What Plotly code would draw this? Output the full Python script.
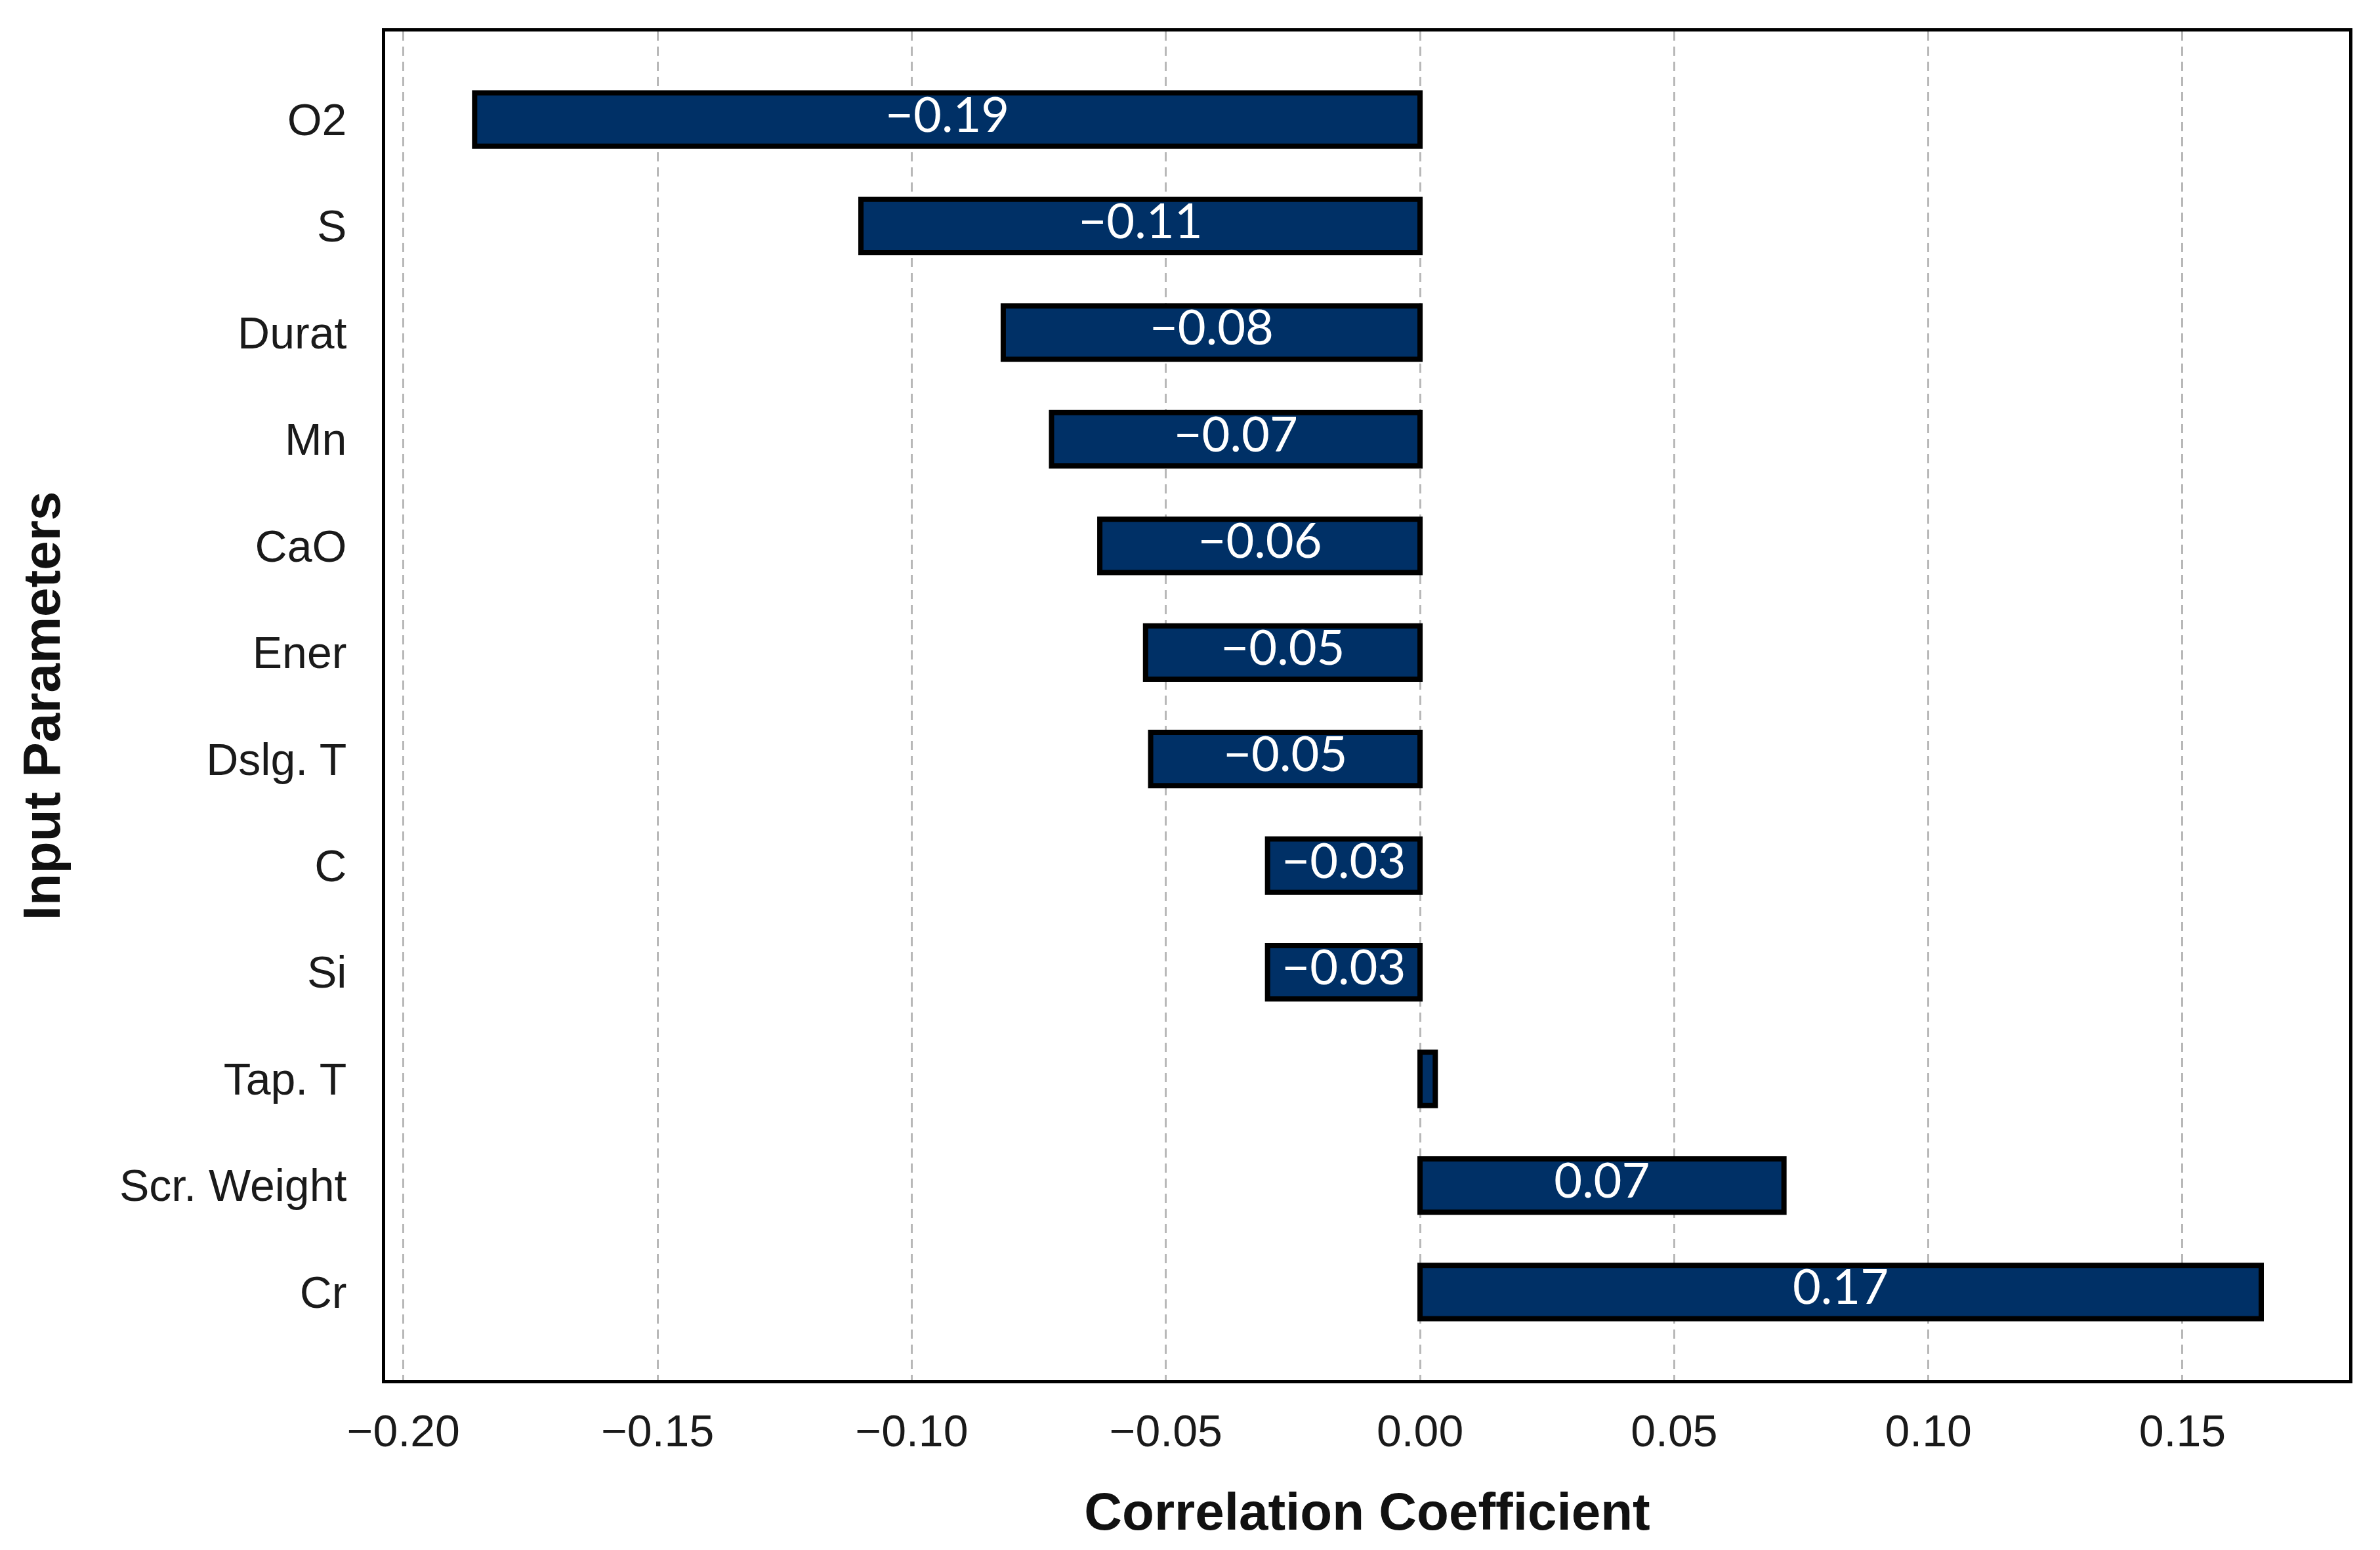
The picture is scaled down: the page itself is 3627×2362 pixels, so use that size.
import plotly.graph_objects as go

parameters = ["O2", "S", "Durat", "Mn", "CaO", "Ener", "Dslg. T", "C", "Si", "Tap. T", "Scr. Weight", "Cr"]
correlations = [-0.186, -0.110, -0.082, -0.0725, -0.063, -0.054, -0.053, -0.030, -0.030, 0.003, 0.0716, 0.1655]
x_ticks = [-0.20, -0.15, -0.10, -0.05, 0.00, 0.05, 0.10, 0.15]

bar_color = "#003066"
tick_font = dict(family="Liberation Sans, Arial, sans-serif", size=68, color="#1a1a1a")
title_font = dict(family="Liberation Sans, Arial, sans-serif", size=80, color="#111111")

labels = [(f"{v:.2f}".replace("-", "\u2212") if abs(v) >= 0.01 else "") for v in correlations]

fig = go.Figure()
fig.add_trace(go.Bar(
    x=correlations, y=parameters, orientation="h", width=0.5,
    marker=dict(color=bar_color, line=dict(color="black", width=8)),
    showlegend=False, hoverinfo="x+y",
))
fig.add_trace(go.Scatter(
    x=[v / 2 for v in correlations], y=parameters, mode="text", text=labels,
    textposition="middle center",
    textfont=dict(family="Lato, Open Sans, sans-serif", size=74, color="white"),
    showlegend=False, hoverinfo="skip",
))

fig.update_layout(
    width=3627, height=2362,
    margin=dict(l=579, r=55, t=40, b=267),
    paper_bgcolor="white", plot_bgcolor="white",
    xaxis=dict(
        range=[-0.2036, 0.1828], tickvals=x_ticks,
        ticktext=[f"{t:.2f}".replace("-", "\u2212") for t in x_ticks],
        showgrid=True, gridcolor="#b8b8b8", gridwidth=3, griddash="14px,9px",
        zeroline=False, showline=True, linecolor="black", linewidth=5, mirror=True,
        ticks="outside", ticklen=14, tickcolor="rgba(0,0,0,0)",
        tickfont=tick_font,
        title=dict(text="<b>Correlation Coefficient</b>", font=title_font, standoff=60),
    ),
    yaxis=dict(
        type="category", categoryorder="array", categoryarray=parameters,
        range=[11.825, -0.825],
        showgrid=False, zeroline=False, showline=True, linecolor="black", linewidth=5, mirror=True,
        ticks="outside", ticklen=40, tickcolor="rgba(0,0,0,0)",
        tickfont=tick_font,
        title=dict(text="<b>Input Parameters</b>", font=title_font, standoff=65),
    ),
)

fig.write_html("out.html")
